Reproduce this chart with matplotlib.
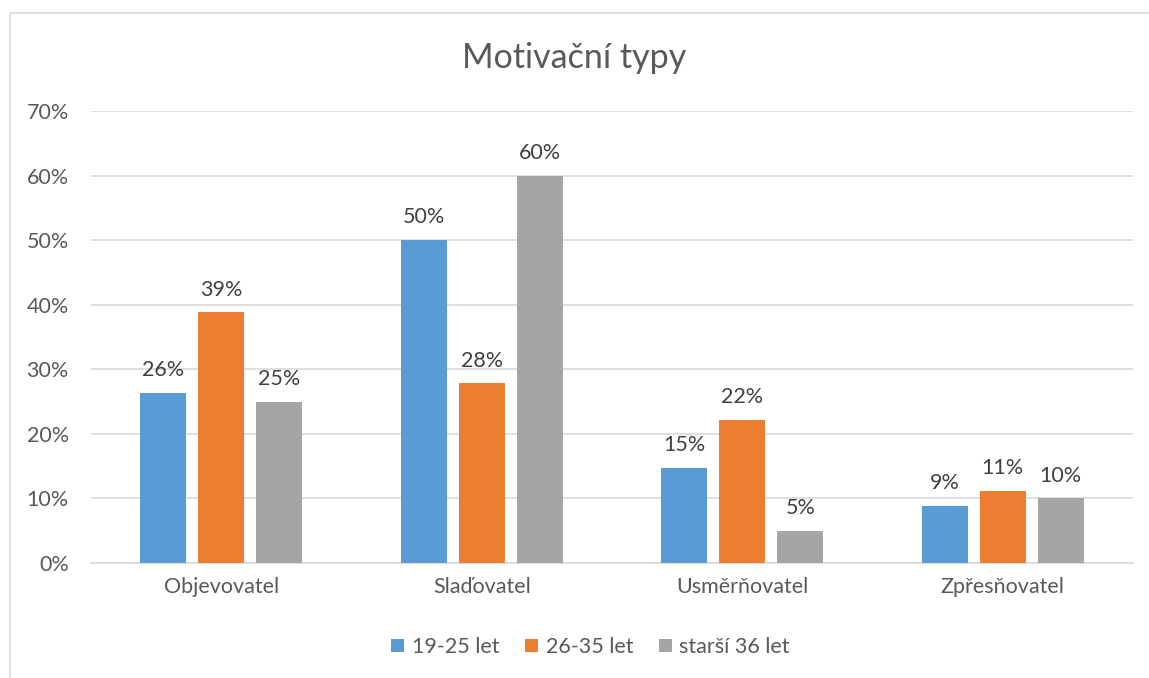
import numpy as np
import matplotlib.pyplot as plt
from matplotlib.patches import Rectangle

categories = ['Objevovatel', 'Slaďovatel', 'Usměrňovatel', 'Zpřesňovatel']
series_names = ['19-25 let', '26-35 let', 'starší 36 let']
young = [26.4, 50.0, 14.7, 8.8]
middle = [38.8, 27.8, 22.2, 11.1]
older = [25.0, 60.0, 5.0, 10.0]
colors = ['#5B9BD5', '#ED7D31', '#A5A5A5']

plt.rcParams['font.family'] = ['Lato', 'DejaVu Sans']
text_color = '#595959'

fig = plt.figure(figsize=(11.49, 6.78), dpi=100, facecolor='white')
ax = fig.add_axes([91 / 1149, 1 - 563 / 678, 1042 / 1149, 452 / 678])

# outer chart frame (partly cut off on the right and bottom)
fig.patches.append(Rectangle((10 / 1149, -0.05), 1.2, 1 - 13 / 678 + 0.05,
                             transform=fig.transFigure, fill=False,
                             edgecolor='#D9D9D9', linewidth=1.2))

x = np.arange(len(categories))
width = 0.177
offset = 0.223
for i, (vals, name) in enumerate(zip([young, middle, older], series_names)):
    pos = x + (i - 1) * offset
    bars = ax.bar(pos, vals, width=width, color=colors[i], label=name, zorder=3)
    for b, v in zip(bars, vals):
        ax.text(b.get_x() + b.get_width() / 2, v + 2.0, f'{round(v):.0f}%',
                ha='center', va='bottom', fontsize=15.5, color='#404040')

ax.set_xlim(-0.5, 3.5)
ax.set_ylim(0, 70)
ax.set_yticks(np.arange(0, 71, 10))
ax.set_yticklabels([f'{t}%' for t in range(0, 71, 10)])
ax.set_xticks(x)
ax.set_xticklabels(categories)
ax.tick_params(axis='both', length=0, labelsize=15.5, colors=text_color)
ax.tick_params(axis='y', pad=16)
ax.tick_params(axis='x', pad=10)
ax.grid(axis='y', color='#D9D9D9', linewidth=1.2, zorder=0)
for s in ['top', 'right', 'left']:
    ax.spines[s].set_visible(False)
ax.spines['bottom'].set_color('#D9D9D9')
ax.spines['bottom'].set_linewidth(1.2)

fig.text(0.5, 1 - 58 / 678, 'Motivační typy', ha='center', va='center',
         fontsize=24.5, color=text_color)

leg = fig.legend(loc='center', bbox_to_anchor=(0.514, 1 - 647 / 678), ncol=3,
                 frameon=False, fontsize=15.5, handlelength=0.6, handleheight=0.6,
                 handletextpad=0.35, columnspacing=1.2)
for t in leg.get_texts():
    t.set_color(text_color)

fig.savefig('out.png', dpi=100, facecolor='white')
